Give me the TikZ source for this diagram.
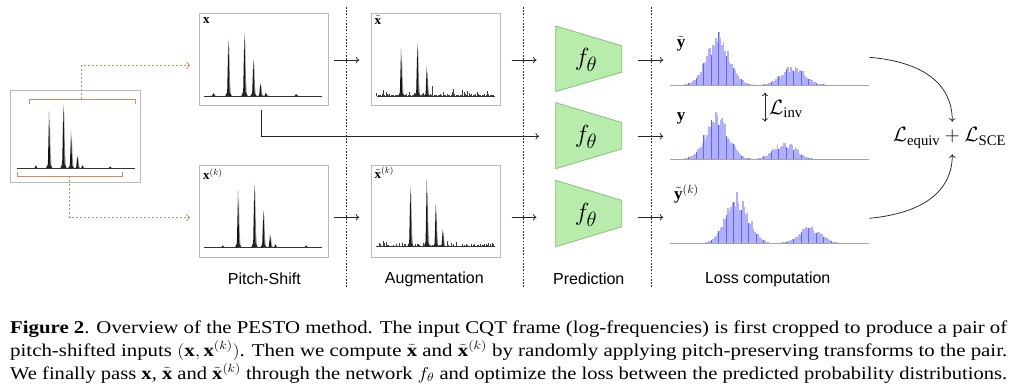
\documentclass[tikz,border=0pt]{standalone}
\usepackage{fontspec}
\setmainfont{Liberation Serif}
\newfontfamily\labfont{Liberation Sans}
\usepackage{amsmath}
\usepackage{graphicx}
\usetikzlibrary{arrows.meta}
\definecolor{boxgray}{RGB}{185,185,185}
\definecolor{crop}{RGB}{205,140,95}
\definecolor{netfill}{RGB}{184,236,172}
\definecolor{netedge}{RGB}{135,192,118}
\definecolor{histfill}{RGB}{176,176,255}
\definecolor{histline}{RGB}{100,100,235}
\newcommand\capfont{\fontsize{18bp}{23bp}\selectfont}
\newcommand\capline[1]{\resizebox{997bp}{\height}{\capfont #1}}
% spectral peak: x, baseline y, height
\newcommand\specpeak[3]{%
  \fill[black!45] (#1-0.2,#2) -- (#1+0.9,#2-0.88*#3) -- (#1+1.6,#2-0.3*#3) -- (#1+2.6,#2) -- cycle;
  \fill[black!92] (#1-1.2,#2) -- (#1-0.2,#2-0.8*#3) -- (#1,#2-#3) -- (#1+0.5,#2-0.7*#3) -- (#1+1.1,#2) -- cycle;
  \fill[black!85] (#1-3,#2) .. controls (#1-1,#2-0.08*#3) .. (#1,#2-0.08*#3) .. controls (#1+1,#2-0.08*#3) .. (#1+3.5,#2) -- cycle;
}
% noise spikes: x0, count, baseline, seed
\newcommand\specnoise[4]{%
  \pgfmathsetseed{#4}%
  \foreach \i in {0,...,#2} {%
    \pgfmathsetmacro\xx{#1+1.3*\i}%
    \pgfmathsetmacro\hh{0.8+10*rnd*rnd*rnd}%
    \draw[black!75, line width=0.55bp] (\xx,#3) -- (\xx,#3-\hh);
  }%
}
% histogram: x0, baseline, c1, A1, c2, A2, seed
\newcommand\hist[7]{%
  \pgfmathsetseed{#7}%
  \foreach \i in {0,...,132} {%
    \pgfmathsetmacro\xx{#1+1.5*\i}%
    \pgfmathsetmacro\hh{(#4*exp(-min(20,((\xx+0.75-#3)/11.5)^2/2))+#6*exp(-min(20,((\xx+0.75-#5)/11.5)^2/2)))*(0.78+0.44*rnd)}%
    \fill[histfill] (\xx,#2) rectangle (\xx+1.5,#2-\hh);
    \pgfmathtruncatemacro\mm{mod(\i,5)}%
    \ifnum\mm=2 \draw[histline, line width=0.6bp] (\xx+0.75,#2) -- (\xx+0.75,#2-\hh);\fi
  }%
  \draw[black!35, line width=0.7bp] (#1,#2) -- (#1+199.3,#2);
}
\tikzset{
  panel/.style={draw=boxgray, line width=0.9bp, inner sep=0, minimum width=129bp, minimum height=92bp},
  arr/.style={-{To[length=3.5bp,width=6.5bp]}, line width=0.75bp, black!85},
  croparr/.style={crop, line width=0.8bp, dash pattern=on 2bp off 2bp, -{Straight Barb[length=3bp,width=6.5bp]}},
  cropbr/.style={crop, line width=1bp},
  sep/.style={black!80, line width=0.8bp, dash pattern=on 1.6bp off 1.6bp},
  net/.style={fill=netfill, draw=netedge, line width=0.8bp},
  steplabel/.style={font=\labfont\fontsize{16bp}{16bp}\selectfont},
  xlab/.style={font=\fontsize{13bp}{13bp}\selectfont, inner sep=0},
  ylab/.style={font=\fontsize{17bp}{17bp}\selectfont, inner sep=0},
  bigmath/.style={font=\fontsize{21bp}{21bp}\selectfont, inner sep=0},
}
\begin{document}
\begin{tikzpicture}[x=1bp,y=-1bp]
\fill[white] (0,0) rectangle (1017,391);
\useasboundingbox (0,0) rectangle (1017,391);

% separators
\draw[sep] (346.3,7) -- (346.3,287);
\draw[sep] (523.3,7) -- (523.3,287);
\draw[sep] (651.3,7) -- (651.3,287);

% input CQT frame
\node[panel, minimum width=130bp] (inbox) at (75.3,136.3) {};
\draw[black!80, line width=0.6bp] (17,168.3) -- (135,168.3);
\specpeak{35.7}{168.3}{3}
\specpeak{49}{168.3}{56.6}
\specpeak{63.3}{168.3}{64}
\specpeak{71}{168.3}{37}
\specpeak{77.3}{168.3}{12.6}
\specpeak{82.3}{168.3}{3}
\specpeak{110}{168.3}{2}
\draw[cropbr] (29,103.7) -- (29,99.3) -- (135,99.3) -- (135,103.7);
\draw[cropbr] (17.3,171.5) -- (17.3,176) -- (122.7,176) -- (122.7,171.5);
\coordinate (ctop) at (81.7,99.3);
\coordinate (cbot) at (69.7,176);

% pitch-shifted crops
\node[panel] (xbox) at (263.8,59.3) {};
\node[panel] (xkbox) at (263.8,211.3) {};
\node[xlab, anchor=north west] (xlabel) at (203,17) {$\mathbf{x}$};
\node[xlab, anchor=north west] (xklabel) at (203,168.5) {$\mathbf{x}^{(k)}$};
\draw[black!80, line width=0.6bp] (204,96) -- (321.7,96);
\specpeak{213.3}{96}{3}
\specpeak{228.3}{96}{57}
\specpeak{244.3}{96}{63.7}
\specpeak{253.3}{96}{37}
\specpeak{260.3}{96}{13}
\specpeak{265.7}{96}{3.3}
\specpeak{296}{96}{2}
\draw[black!80, line width=0.6bp] (204,247.3) -- (321.7,247.3);
\specpeak{222.7}{247.3}{2}
\specpeak{238}{247.3}{56.6}
\specpeak{254.3}{247.3}{64}
\specpeak{263.3}{247.3}{37.3}
\specpeak{270}{247.3}{13}
\specpeak{275.3}{247.3}{3}
\specpeak{306}{247.3}{2}

\coordinate (xin) at (190,65.3);
\coordinate (xkin) at (190,217.7);
\draw[croparr] (ctop) |- (xin);
\draw[croparr] (cbot) |- (xkin);

% augmented
\node[panel] (xtbox) at (435.5,59.3) {};
\node[panel] (xtkbox) at (435.5,211.3) {};
\node[xlab, anchor=north west] (xtlabel) at (374.5,15.5) {$\tilde{\mathbf{x}}$};
\node[xlab, anchor=north west] (xtklabel) at (374.5,167) {$\tilde{\mathbf{x}}^{(k)}$};
\specnoise{376.7}{90}{96}{11}
\draw[black!80, line width=0.6bp] (376.7,96) -- (495,96);
\specpeak{401}{96}{47.7}
\specpeak{417.3}{96}{53.3}
\specpeak{426.7}{96}{29.3}
\specnoise{376.7}{90}{246.7}{23}
\draw[black!80, line width=0.6bp] (376.7,246.7) -- (495,246.7);
\specpeak{410.3}{246.7}{60}
\specpeak{426.7}{246.7}{67.4}
\specpeak{435.7}{246.7}{42.7}
\specpeak{442.7}{246.7}{17.4}

% networks
\draw[net] (555.7,26) -- (621.7,45.8) -- (621.7,72.2) -- (555.7,91.6) -- cycle;
\draw[net] (555.7,102.7) -- (621.7,122.5) -- (621.7,148.9) -- (555.7,168.7) -- cycle;
\draw[net] (555.7,180.3) -- (621.7,200.4) -- (621.7,226.8) -- (555.7,246.7) -- cycle;
\node[font=\fontsize{28bp}{28bp}\selectfont, inner sep=0] (f1) at (586,60) {$f_\theta$};
\node[font=\fontsize{28bp}{28bp}\selectfont, inner sep=0] (f2) at (586,137) {$f_\theta$};
\node[font=\fontsize{28bp}{28bp}\selectfont, inner sep=0] (f3) at (586,215) {$f_\theta$};

% arrows between stages
\coordinate (a1s) at (334,60);   \coordinate (a1e) at (359.3,60);
\coordinate (a2s) at (334,217.3); \coordinate (a2e) at (359.3,217.3);
\coordinate (b1s) at (511.7,60);  \coordinate (b1e) at (536.5,60);
\coordinate (b3s) at (511.7,217.3); \coordinate (b3e) at (536.5,217.3);
\coordinate (xdown) at (261.7,110.3); \coordinate (b2e) at (539,136.3);
\draw[arr] (a1s) -- (a1e);
\draw[arr] (a2s) -- (a2e);
\draw[arr] (b1s) -- (b1e);
\draw[arr] (b3s) -- (b3e);
\draw[arr] (xdown) |- (b2e);
\coordinate (c1s) at (638.3,60);    \coordinate (c1e) at (663.3,60);
\coordinate (c2s) at (638.3,136.3); \coordinate (c2e) at (663.3,136.3);
\coordinate (c3s) at (638.3,217.3); \coordinate (c3e) at (663.3,217.3);
\draw[arr] (c1s) -- (c1e);
\draw[arr] (c2s) -- (c2e);
\draw[arr] (c3s) -- (c3e);

% histograms
\hist{670}{85}{718}{44}{793}{17}{5}
\hist{670}{159.3}{716.5}{39}{785}{15}{7}
\hist{670}{243.3}{737}{43}{810}{14.5}{9}
\node[ylab] (yt) at (681,43.5) {$\tilde{\mathbf{y}}$};
\node[ylab] (y) at (681,118) {$\mathbf{y}$};
\node[ylab, anchor=west] (ytk) at (674,193.5) {$\tilde{\mathbf{y}}^{(k)}$};

% losses
\coordinate (inv1) at (765,92.7); \coordinate (inv2) at (765,121.7);
\draw[line width=0.75bp, black!85, {To[length=3.5bp,width=6.5bp]}-{To[length=3.5bp,width=6.5bp]}] (inv1) -- (inv2);
\node[bigmath, anchor=west] (linv) at (769,109) {$\mathcal{L}_{\mathrm{inv}}$};
\node[bigmath] (ltot) at (949.5,138) {$\mathcal{L}_{\mathrm{equiv}}+\mathcal{L}_{\mathrm{SCE}}$};
\coordinate (h1) at (869.3,57.3);
\coordinate (h3) at (869.3,218.3);
\coordinate (t1) at (952.3,121.7);
\coordinate (t3) at (952.3,154.3);
\draw[arr] (h1) .. controls (925,62) and (952.3,85) .. (t1);
\draw[arr] (h3) .. controls (925,213) and (952.3,190) .. (t3);

% stage labels
\node[steplabel] (s1) at (264.3,279) {Pitch-Shift};
\node[steplabel] (s2) at (434.3,279) {Augmentation};
\node[steplabel] (s3) at (588.8,279) {Prediction};
\node[steplabel] (s4) at (767.7,279) {Loss computation};

% caption
\node[anchor=base west, inner sep=0] (cap1) at (10,333) {\capline{\textbf{Figure 2}. Overview of the PESTO method. The input CQT frame (log-frequencies) is first cropped to produce a pair of}};
\node[anchor=base west, inner sep=0] (cap2) at (10,356) {\capline{pitch-shifted inputs $(\mathbf{x},\mathbf{x}^{(k)})$. Then we compute $\tilde{\mathbf{x}}$ and $\tilde{\mathbf{x}}^{(k)}$ by randomly applying pitch-preserving transforms to the pair.}};
\node[anchor=base west, inner sep=0] (cap3) at (10,379) {\capline{We finally pass $\mathbf{x}$, $\tilde{\mathbf{x}}$ and $\tilde{\mathbf{x}}^{(k)}$ through the network $f_\theta$ and optimize the loss between the predicted probability distributions.}};
\end{tikzpicture}
\end{document}
